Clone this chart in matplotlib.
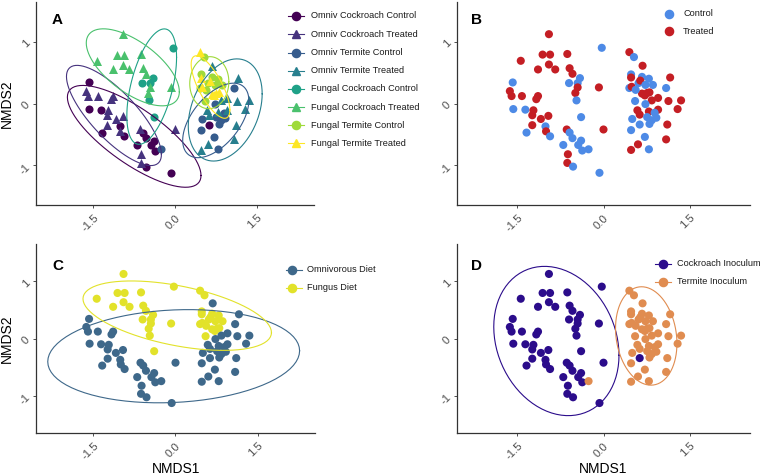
import numpy as np
import matplotlib
matplotlib.use('Agg')
import matplotlib.pyplot as plt
from matplotlib.lines import Line2D

plt.rcParams['font.family'] = ['Liberation Sans', 'DejaVu Sans']

# ---------------- data ----------------
nmds1 = [-0.95, -0.03, -1.44, -1.06, -0.93, -0.63, -0.95, -1.14, -0.84, -0.59,
         -0.54, -0.41, -0.60, -0.45, -0.45, -0.49, -0.47, -0.08, -1.58, -1.63,
         -1.60, -1.42, -1.14, -1.17, -1.57, -1.36, -1.22, -1.24, -0.96, -1.09,
         -1.24, -1.01, -1.00, -1.34, -0.93, -0.39, -0.64, 0.00, -0.59, -0.54,
         -0.70, -0.44, -0.39, -0.37, -0.26, -0.62, -0.63, -0.53, -0.07,
         0.45, 0.53, 0.68, 0.48, 0.48, 0.67, 0.79, 1.16, 0.45, 0.49,
         1.09, 0.61, 0.64, 0.73, 0.86, 0.67, 0.76, 0.80, 0.72, 0.56,
         0.95, 0.84, 0.55, 0.73, 1.13, 1.35, 1.29, 0.59, 0.63, 0.79,
         0.95, 0.89, 0.92, 0.84, 0.80, 0.50, 0.63, 0.48, 1.11, 0.72,
         1.09, 0.60, 0.48, 0.79, 0.76]
nmds2 = [1.12, 0.90, 0.69, 0.79, 0.79, 0.80, 0.63, 0.55, 0.55, 0.57,
         0.48, 0.41, 0.33, 0.33, 0.26, 0.17, 0.05, 0.26, 0.34, 0.20,
         0.12, 0.12, 0.12, 0.07, -0.09, -0.10, -0.11, -0.19, -0.20, -0.25,
         -0.35, -0.37, -0.45, -0.47, -0.53, -0.22, -0.42, -0.42, -0.47, -0.56,
         -0.67, -0.67, -0.60, -0.76, -0.74, -0.82, -0.96, -1.02, -1.12,
         0.83, 0.75, 0.61, 0.47, 0.42, 0.43, 0.40, 0.42, 0.25, 0.27,
         0.25, 0.33, 0.37, 0.30, 0.30, 0.16, 0.17, 0.18, 0.13, 0.22,
         0.09, 0.05, 0.04, -0.01, 0.04, 0.05, -0.09, -0.11, -0.18, -0.13,
         -0.10, -0.15, -0.23, -0.27, -0.33, -0.25, -0.34, -0.43, -0.34, -0.54,
         -0.58, -0.66, -0.75, -0.74, -0.22]
diet = (['Fungal'] * 18 + ['Omniv'] * 17 + ['Fungal'] + ['Omniv'] * 13 +
        ['Fungal', 'Fungal', 'Omniv', 'Fungal', 'Fungal', 'Fungal', 'Fungal', 'Omniv',
         'Fungal', 'Fungal', 'Omniv', 'Fungal', 'Fungal', 'Fungal', 'Fungal', 'Fungal',
         'Fungal', 'Fungal', 'Fungal', 'Fungal', 'Omniv', 'Omniv', 'Fungal'] +
        ['Omniv'] * 22)
inoculum = (['Cockroach'] * 44 + ['Termite'] + ['Cockroach'] * 4 +
            ['Termite'] * 36 + ['Cockroach'] + ['Termite'] * 8)
treatment = ['Treated', 'Control', 'Treated', 'Treated', 'Treated', 'Treated', 'Treated',
             'Treated', 'Treated', 'Treated', 'Treated', 'Control', 'Control', 'Control',
             'Treated', 'Treated', 'Control', 'Treated', 'Control', 'Treated', 'Treated',
             'Treated', 'Treated', 'Treated', 'Control', 'Control', 'Treated', 'Treated',
             'Treated', 'Treated', 'Treated', 'Control', 'Treated', 'Control', 'Control',
             'Control', 'Treated', 'Treated', 'Control', 'Control', 'Control', 'Control',
             'Control', 'Control', 'Control', 'Treated', 'Treated', 'Control', 'Control',
             'Treated', 'Control', 'Treated', 'Control', 'Treated', 'Control', 'Control',
             'Treated', 'Control', 'Treated', 'Control', 'Control', 'Treated', 'Control',
             'Control', 'Treated', 'Treated', 'Treated', 'Treated', 'Control', 'Treated',
             'Treated', 'Control', 'Control', 'Treated', 'Treated', 'Treated', 'Treated',
             'Treated', 'Treated', 'Treated', 'Control', 'Control', 'Control', 'Control',
             'Control', 'Control', 'Control', 'Treated', 'Control', 'Treated', 'Treated',
             'Treated', 'Control', 'Control']

group_diets = ['Omniv', 'Omniv', 'Omniv', 'Omniv', 'Fungal', 'Fungal', 'Fungal', 'Fungal']
group_inocula = ['Cockroach', 'Cockroach', 'Termite', 'Termite',
                 'Cockroach', 'Cockroach', 'Termite', 'Termite']
group_treats = ['Control', 'Treated'] * 4
group_colors = ['#440154', '#46337E', '#365C8D', '#277F8E',
                '#1FA187', '#4AC16D', '#9FDA3A', '#FDE725']

treat_levels = ['Control', 'Treated']
treat_colors = ['#4D8AE6', '#C41E24']
diet_levels = ['Omniv', 'Fungal']
diet_labels = ['Omnivorous Diet', 'Fungus Diet']
diet_colors = ['#3E688A', '#E2E22A']
inoc_levels = ['Cockroach', 'Termite']
inoc_labels = ['Cockroach Inoculum', 'Termite Inoculum']
inoc_colors = ['#2B0C8B', '#E08C50']

xticks = [-1.5, 0.0, 1.5]
xticklabels = ['-1.5', '0.0', '1.5']
yticks = [-1, 0, 1]
yticklabels = ['-1', '0', '1']

x = np.array(nmds1)
y = np.array(nmds2)
diet_a = np.array(diet)
inoc_a = np.array(inoculum)
treat_a = np.array(treatment)


# ---------------- helpers ----------------
def cov_trob(X, nu=5, maxit=25, tol=0.01):
    n, p = X.shape
    loc = X.mean(0)
    w = np.ones(n)
    Xc = X - loc
    for _ in range(maxit):
        w0 = w
        Xc = X - loc
        sw = np.sqrt(w / w.sum())
        _, d, Vt = np.linalg.svd(sw[:, None] * Xc, full_matrices=False)
        wX = Xc @ Vt.T @ np.diag(1.0 / d)
        Q = (wX ** 2).sum(1)
        w = (nu + p) / (nu + Q)
        loc = (w[:, None] * X).sum(0) / w.sum()
        if np.all(np.abs(w - w0) < tol):
            break
    sX = np.sqrt(w)[:, None] * Xc
    cov = sX.T @ sX / n
    return loc, cov


def ellipse_xy(px_, py_, level=0.95, seg=80):
    X = np.column_stack([px_, py_])
    n = len(X)
    center, shape = cov_trob(X)
    dfd = n - 1
    qf = (dfd / 2.0) * ((1 - level) ** (-2.0 / dfd) - 1)
    radius = np.sqrt(2 * qf)
    ang = np.linspace(0, 2 * np.pi, seg + 1)
    circ = np.column_stack([np.cos(ang), np.sin(ang)])
    L = np.linalg.cholesky(shape)
    e = center + radius * (circ @ L.T)
    return e[:, 0], e[:, 1]


W, H = 760, 476
fig = plt.figure(figsize=(W / 100, H / 100), dpi=100)


def add_axes_px(x0, y0, x1, y1):
    return fig.add_axes([x0 / W, 1 - y1 / H, (x1 - x0) / W, (y1 - y0) / H])


def style(ax):
    ax.set_xlim(-2.55, 2.55)
    ax.set_ylim(-1.64, 1.64)
    for s in ['top', 'right']:
        ax.spines[s].set_visible(False)
    for s in ['left', 'bottom']:
        ax.spines[s].set_color('#333333')
        ax.spines[s].set_linewidth(0.9)
    ax.set_xticks(xticks)
    ax.set_xticklabels(xticklabels, rotation=45, ha='right', va='top',
                       rotation_mode='anchor', color='#4D4D4D', fontsize=8.2)
    ax.set_yticks(yticks)
    ax.set_yticklabels(yticklabels, rotation=45, ha='right', va='center',
                       rotation_mode='anchor', color='#4D4D4D', fontsize=8.2)
    ax.tick_params(length=2.5, width=0.6, color='#333333', pad=3)


MS = 34
LW = 0.8


def legend_px(entries, xm, xl0, xl1, xt, ys, line=True):
    for (lab, col, mk), yy in zip(entries, ys):
        yf = 1 - yy / H
        if line:
            fig.add_artist(Line2D([xl0 / W, xl1 / W], [yf, yf], transform=fig.transFigure,
                                  color=col, lw=LW))
        fig.add_artist(Line2D([xm / W], [yf], transform=fig.transFigure, marker=mk,
                              ms=5.9 if mk == 'o' else 6.3, color=col, lw=0))
        fig.text(xt / W, yf, lab, fontsize=6.6, va='center', ha='left', color='#1A1A1A')


# ---------------- Panel A ----------------
axA = add_axes_px(36, 2, 314, 205)
style(axA)
entriesA = []
for gd, gi, gt, gc in zip(group_diets, group_inocula, group_treats, group_colors):
    m = (diet_a == gd) & (inoc_a == gi) & (treat_a == gt)
    mk = 'o' if gt == 'Control' else '^'
    axA.scatter(x[m], y[m], s=MS if mk == 'o' else MS + 8, marker=mk, color=gc,
                linewidths=0, zorder=2)
    ex, ey = ellipse_xy(x[m], y[m])
    axA.plot(ex, ey, color=gc, lw=LW, zorder=3)
    entriesA.append((f'{gd} {gi} {gt}', gc, mk))
legend_px(entriesA, 296, 288, 304, 311, [16, 34.2, 52.5, 70.7, 88.8, 107, 125, 143])

# ---------------- Panel B ----------------
axB = add_axes_px(457, 2, 750, 205)
style(axB)
colsB = [treat_colors[treat_levels.index(t)] for t in treatment]
axB.scatter(x, y, s=MS, c=colsB, linewidths=0, zorder=2)
legend_px([(t, c, 'o') for t, c in zip(treat_levels, treat_colors)],
          669, 0, 0, 683, [14, 31.3], line=False)

# ---------------- Panel C ----------------
axC = add_axes_px(36, 244, 315, 433)
style(axC)
colsC = [diet_colors[diet_levels.index(d)] for d in diet]
axC.scatter(x, y, s=MS, c=colsC, linewidths=0, zorder=2)
for lv, col in zip(diet_levels, diet_colors):
    m = diet_a == lv
    ex, ey = ellipse_xy(x[m], y[m])
    axC.plot(ex, ey, color=col, lw=LW, zorder=3)
legend_px([(l, c, 'o') for l, c in zip(diet_labels, diet_colors)],
          292, 286, 302, 307, [270, 287.7])

# ---------------- Panel D ----------------
axD = add_axes_px(457, 244, 750, 433)
style(axD)
colsD = [inoc_colors[inoc_levels.index(i)] for i in inoculum]
axD.scatter(x, y, s=MS, c=colsD, linewidths=0, zorder=2)
for lv, col in zip(inoc_levels, inoc_colors):
    m = inoc_a == lv
    ex, ey = ellipse_xy(x[m], y[m])
    axD.plot(ex, ey, color=col, lw=LW, zorder=3)
legend_px([(l, c, 'o') for l, c in zip(inoc_labels, inoc_colors)],
          663, 655, 671, 677, [264, 281.7])

# ---------------- labels ----------------
for lab, xx, yy in [('A', 52, 23.5), ('B', 471, 24), ('C', 52, 269.5), ('D', 471, 270)]:
    fig.text(xx / W, 1 - yy / H, lab, fontsize=11, fontweight='bold', va='baseline',
             ha='left', color='black')
for yy in [103.5, 339]:
    fig.text(7 / W, 1 - yy / H, 'NMDS2', rotation=90, fontsize=10, va='center',
             ha='center', color='black')
for xx in [176, 603]:
    fig.text(xx / W, 1 - 469 / H, 'NMDS1', fontsize=10, va='center', ha='center',
             color='black')

fig.savefig('out.png', dpi=100)
